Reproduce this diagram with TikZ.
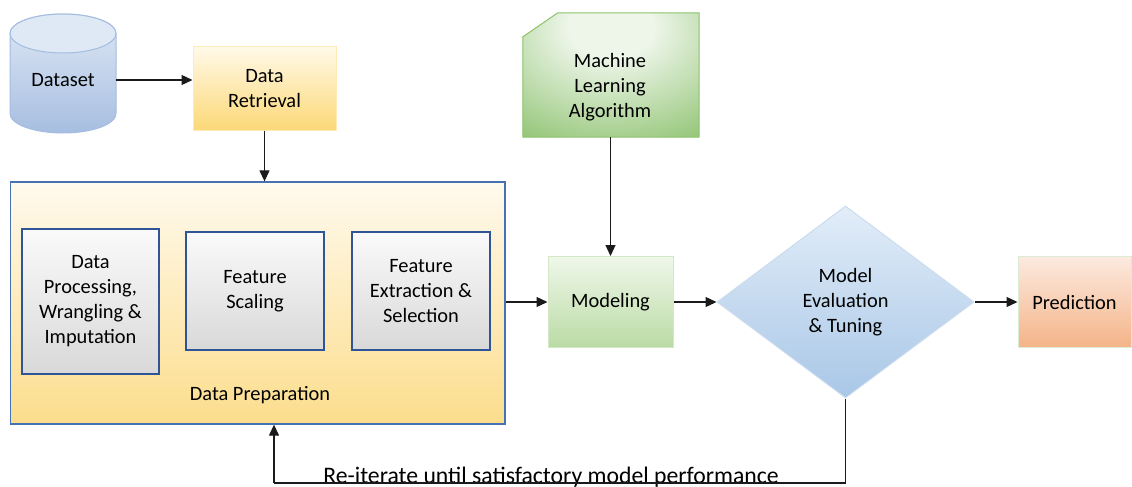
\documentclass[tikz,border=0pt]{standalone}
\usepackage{fontspec}
\setmainfont{Carlito}
\usetikzlibrary{arrows.meta,shapes.geometric}
\definecolor{cylTop}{HTML}{DFE8F5}
\definecolor{cylBot}{HTML}{A7BEE1}
\definecolor{cylLine}{HTML}{A3BCE0}
\definecolor{retTop}{HTML}{FFF9E8}
\definecolor{retBot}{HTML}{FCD877}
\definecolor{retLine}{HTML}{FDEBB8}
\definecolor{prepTop}{HTML}{FFFAEE}
\definecolor{prepBot}{HTML}{FCDD8C}
\definecolor{prepLine}{HTML}{4672B4}
\definecolor{innerLine}{HTML}{2F5597}
\definecolor{mlA}{HTML}{EEF6EA}
\definecolor{mlB}{HTML}{7DB95A}
\definecolor{mlLine}{HTML}{8CC36C}
\definecolor{modTop}{HTML}{EFF7EA}
\definecolor{modBot}{HTML}{BADBA4}
\definecolor{modLine}{HTML}{D3E8C6}
\definecolor{evTop}{HTML}{E2EDF8}
\definecolor{evBot}{HTML}{A9C7E7}
\definecolor{evLine}{HTML}{CBDCEF}
\definecolor{prTop}{HTML}{FCEAE0}
\definecolor{prBot}{HTML}{F4B488}
\definecolor{prLine}{HTML}{DCEBD3}
\definecolor{lineC}{HTML}{1A1A1A}
\pgfdeclareradialshading{mlshade}{\pgfpoint{0bp}{22bp}}{color(0bp)=(mlA); color(12bp)=(mlA); color(45bp)=(mlB!80!mlA); color(70bp)=(mlB); color(100bp)=(mlB)}
\begin{document}
\begin{tikzpicture}[x=1pt,y=-1pt,
  font=\fontsize{20.4}{25}\selectfont,
  arr/.style={line width=1.2pt, draw=lineC, -{Triangle[length=11pt,width=10pt]}},
  fbline/.style={line width=1.2pt, draw=lineC},
  innerbox/.style={draw=innerLine, line width=1.3pt, top color=gray!4, bottom color=gray!30, align=center, inner sep=0pt},
  plainbox/.style={line width=1pt, align=center, inner sep=0pt}]
\useasboundingbox (0,0) rectangle (1132,487);

% Dataset cylinder
\shade[top color=cylTop, bottom color=cylBot, draw=cylLine, line width=1pt]
  (10,33.5) -- (10,113.5) arc[start angle=180, end angle=0, x radius=53, y radius=19.5]
  -- (116,33.5) arc[start angle=0, end angle=-180, x radius=53, y radius=19.5] -- cycle;
\draw[fill=cylTop, draw=cylLine, line width=1pt] (63,33.5) ellipse[x radius=53, y radius=19.5];
\node[inner sep=0pt, minimum width=106pt, minimum height=119pt] (dataset) at (63,73.5) {};
\node (dstext) at (63,80) {Dataset};

% Data Retrieval
\node[plainbox, top color=retTop, bottom color=retBot, draw=retLine,
  minimum width=143pt, minimum height=83pt] (retrieval) at (264.5,88.5) {Data\\Retrieval};

% Data Preparation
\node[draw=prepLine, line width=1.3pt, top color=prepTop, bottom color=prepBot,
  minimum width=494.5pt, minimum height=242pt, inner sep=0pt] (prep) at (257.75,303) {};
\node[innerbox, minimum width=137pt, minimum height=145pt] (proc) at (90.5,301.5) {Data\\Processing,\\Wrangling \&\\Imputation};
\node[innerbox, minimum width=138pt, minimum height=118pt] (scal) at (255,291) {Feature\\Scaling};
\node[innerbox, minimum width=138pt, minimum height=118pt] (extr) at (421,291) {Feature\\Extraction \&\\Selection};
\node (preplabel) at (260,395) {Data Preparation};

% Machine Learning Algorithm
\node[inner sep=0pt, minimum width=176pt, minimum height=124pt] (ml) at (611,75) {};
\shade[shading=mlshade, draw=mlLine, line width=1pt]
  ([yshift=-24pt]ml.north west) -- ([xshift=35pt]ml.north west) -- (ml.north east)
  -- (ml.south east) -- (ml.south west) -- cycle;
\node[align=center] (mltext) at (610,87) {Machine\\Learning\\Algorithm};

% Modeling
\node[plainbox, top color=modTop, bottom color=modBot, draw=modLine,
  minimum width=125pt, minimum height=91pt] (modeling) at (610.5,302) {Modeling};

% Evaluation diamond
\node[diamond, minimum width=257pt, minimum height=192pt, inner sep=0pt, line width=1pt,
  top color=evTop, bottom color=evBot, draw=evLine, align=center] (eval) at (845.5,302)
  {Model\\Evaluation\\\& Tuning};

% Prediction
\node[plainbox, top color=prTop, bottom color=prBot, draw=prLine,
  minimum width=113pt, minimum height=91pt] (pred) at (1074.5,302) {Prediction};

% Connectors
\draw[arr] (dstext.east -| dataset.east) -- (dstext.east -| retrieval.west);
\draw[arr] (retrieval.south) -- (retrieval.south |- prep.north);
\draw[arr] (ml.south -| modeling.north) -- (modeling.north);
\draw[arr] (prep.east |- modeling) -- (modeling.west);
\draw[arr] (modeling.east) -- (eval.west);
\draw[arr] (eval.east) -- (pred.west);

% Feedback loop
\coordinate (fbR) at (845.5,483);
\coordinate (fbL) at (274,483);
\node[anchor=base, inner sep=0pt, font=\fontsize{23.7}{28}\selectfont] (reit) at (551,483)
  {Re-iterate until satisfactory model performance};
\draw[fbline] (eval.south) -- (fbR) -- (fbL);
\draw[arr] (fbL) -- (fbL |- prep.south);
\end{tikzpicture}
\end{document}
